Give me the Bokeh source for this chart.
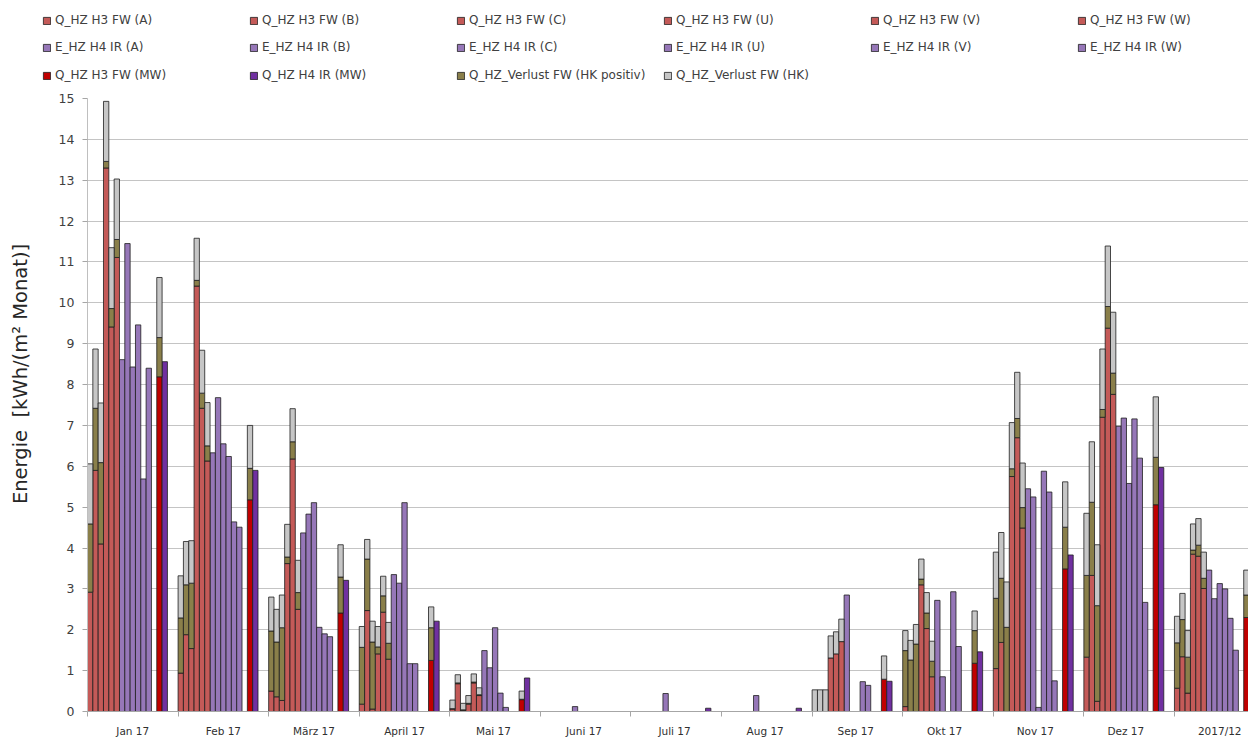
from bokeh.plotting import figure
from bokeh.layouts import column
from bokeh.models import ColumnDataSource, FixedTicker, Legend, LegendItem, Range1d
from bokeh.embed import file_html
from bokeh.resources import INLINE

# ---------------- data ----------------
months = ["Jan 17", "Feb 17", "März 17", "April 17", "Mai  17", "Juni  17", "Juli  17",
          "Aug  17", "Sep  17", "Okt   17", "Nov   17", "Dez   17", "2017/12"]
subs = ["A", "B", "C", "U", "V", "W"]

# Q_HZ H3 FW  (heat, red part)
q_fw_A = [2.92, 0.94, 0.50, 0.18, 0.06, 0, 0, 0, 0, 0.12, 1.05, 1.33, 0.57]
q_fw_B = [5.90, 1.88, 0.36, 2.47, 0.68, 0, 0, 0, 0, 0, 1.69, 3.33, 1.34]
q_fw_C = [4.10, 1.54, 0.27, 0.06, 0.03, 0, 0, 0, 0, 0, 0, 0.25, 0.45]
q_fw_U = [13.30, 10.41, 3.62, 1.41, 0.18, 0, 0, 0, 1.31, 3.10, 5.75, 7.20, 3.85]
q_fw_V = [9.41, 7.42, 6.18, 2.43, 0.70, 0, 0, 0, 1.41, 2.03, 6.70, 9.38, 3.80]
q_fw_W = [11.11, 6.13, 2.50, 1.28, 0.39, 0, 0, 0, 1.71, 0.85, 4.49, 7.76, 3.01]

# Q_HZ_Verlust FW (HK positiv)  (olive part)
vp_A = [1.67, 1.35, 1.47, 1.39, 0.01, 0, 0, 0, 0, 1.37, 1.72, 2.00, 1.11]
vp_B = [1.52, 1.22, 1.34, 1.26, 0.02, 0, 0, 0, 0, 1.26, 1.57, 1.79, 0.91]
vp_C = [1.99, 1.60, 1.78, 1.64, 0.01, 0, 0, 0, 0, 1.65, 2.06, 2.34, 0.88]
vp_U = [0.16, 0.14, 0.16, 0.17, 0.02, 0, 0, 0, 0, 0.14, 0.19, 0.19, 0.10]
vp_V = [0.45, 0.37, 0.42, 0.40, 0.02, 0, 0, 0, 0, 0.38, 0.47, 0.53, 0.27]
vp_W = [0.44, 0.37, 0.41, 0.39, 0.02, 0, 0, 0, 0, 0.38, 0.50, 0.52, 0.25]

# Q_HZ_Verlust FW (HK)  (grey part)
vl_A = [1.47, 1.03, 0.83, 0.51, 0.21, 0, 0, 0, 0.53, 0.49, 1.13, 1.52, 0.65]
vl_B = [1.45, 1.06, 0.80, 0.48, 0.20, 0, 0, 0, 0.53, 0.48, 1.12, 1.48, 0.64]
vl_C = [1.46, 1.04, 0.80, 0.51, 0.16, 0, 0, 0, 0.53, 0.48, 1.11, 1.49, 0.65]
vl_U = [1.47, 1.03, 0.80, 0.50, 0.19, 0, 0, 0, 0.54, 0.49, 1.13, 1.48, 0.64]
vl_V = [1.49, 1.05, 0.81, 0.48, 0.20, 0, 0, 0, 0.54, 0.50, 1.13, 1.48, 0.65]
vl_W = [1.48, 1.06, 0.79, 0.51, 0.17, 0, 0, 0, 0.55, 0.49, 1.09, 1.49, 0.64]

# E_HZ H4 IR
e_ir_A = [8.61, 6.33, 4.37, 3.35, 1.49, 0.12, 0.44, 0.39, 2.85, 2.72, 5.45, 6.98, 3.46]
e_ir_B = [11.45, 7.68, 4.83, 3.14, 1.07, 0, 0, 0, 0, 0.85, 5.25, 7.18, 2.76]
e_ir_C = [8.43, 6.55, 5.11, 5.11, 2.05, 0, 0, 0, 0, 0, 0.10, 5.58, 3.13]
e_ir_U = [9.46, 6.24, 2.06, 1.17, 0.45, 0, 0, 0, 0.73, 2.93, 5.88, 7.16, 3.00]
e_ir_V = [5.69, 4.64, 1.90, 1.17, 0.10, 0, 0, 0, 0.64, 1.59, 5.37, 6.20, 2.28]
e_ir_W = [8.40, 4.51, 1.83, 0, 0, 0, 0, 0, 0, 0, 0.75, 2.67, 1.50]

# mean values (MW)
q_fw_MW = [8.19, 5.18, 2.41, 1.25, 0.29, 0, 0, 0, 0.79, 1.18, 3.49, 5.06, 2.30]
vp_MW = [0.96, 0.77, 0.88, 0.80, 0.01, 0, 0, 0, 0, 0.80, 1.02, 1.16, 0.55]
vl_MW = [1.47, 1.05, 0.79, 0.51, 0.20, 0, 0, 0, 0.57, 0.48, 1.11, 1.48, 0.61]
e_ir_MW = [8.56, 5.90, 3.21, 2.21, 0.82, 0, 0.08, 0.08, 0.74, 1.46, 3.83, 5.97, 2.90]

q_fw = [q_fw_A, q_fw_B, q_fw_C, q_fw_U, q_fw_V, q_fw_W]
vp = [vp_A, vp_B, vp_C, vp_U, vp_V, vp_W]
vl = [vl_A, vl_B, vl_C, vl_U, vl_V, vl_W]
e_ir = [e_ir_A, e_ir_B, e_ir_C, e_ir_U, e_ir_V, e_ir_W]

# ---------------- style ----------------
C_Q = "#c45a58"
C_E = "#9677b8"
C_QMW = "#c00000"
C_EMW = "#7030a0"
C_OLIVE = "#8a7f4a"
C_GREY = "#c6c6c6"
OUT = "#1e1e1e"
FONT = "DejaVu Sans"

SLOTS = 17   # slots per month group
Q_SLOT = [0, 1, 2, 3, 4, 5]
E_SLOT = [6, 7, 8, 9, 10, 11]
QMW_SLOT = 13
EMW_SLOT = 14

W = 1248
LEG_H = 87
MAIN_H = 652

p = figure(width=W, height=MAIN_H, output_backend="svg", toolbar_location=None,
           x_range=Range1d(0, 217.9), y_range=Range1d(0, 15),
           min_border_left=87, min_border_right=0, min_border_top=11, min_border_bottom=26)
p.outline_line_color = None
p.background_fill_color = "white"
p.border_fill_color = "white"


def stack_src(slot, base, vals):
    xs, bs, ts = [], [], []
    for m in range(len(months)):
        b = base[m] if base is not None else 0
        v = vals[m]
        if v > 0:
            xs.append(SLOTS * m + slot + 0.5)
            bs.append(b)
            ts.append(b + v)
    return xs, bs, ts


def bars(fig, xs, bs, ts, color):
    src = ColumnDataSource(dict(x=xs, bottom=bs, top=ts))
    return fig.vbar(x="x", width=1, bottom="bottom", top="top", source=src,
                    fill_color=color, line_color=OUT, line_width=0.8)


olive_x, olive_b, olive_t = [], [], []
grey_x, grey_b, grey_t = [], [], []

for i in range(6):
    red = q_fw[i]
    xs, bs, ts = stack_src(Q_SLOT[i], None, red)
    bars(p, xs, bs, ts, C_Q)
    xs, bs, ts = stack_src(Q_SLOT[i], red, vp[i])
    olive_x += xs; olive_b += bs; olive_t += ts
    lvl2 = [a + b for a, b in zip(red, vp[i])]
    xs, bs, ts = stack_src(Q_SLOT[i], lvl2, vl[i])
    grey_x += xs; grey_b += bs; grey_t += ts
    xs, bs, ts = stack_src(E_SLOT[i], None, e_ir[i])
    bars(p, xs, bs, ts, C_E)

xs, bs, ts = stack_src(QMW_SLOT, None, q_fw_MW)
bars(p, xs, bs, ts, C_QMW)
xs, bs, ts = stack_src(QMW_SLOT, q_fw_MW, vp_MW)
olive_x += xs; olive_b += bs; olive_t += ts
lvl2 = [a + b for a, b in zip(q_fw_MW, vp_MW)]
xs, bs, ts = stack_src(QMW_SLOT, lvl2, vl_MW)
grey_x += xs; grey_b += bs; grey_t += ts
xs, bs, ts = stack_src(EMW_SLOT, None, e_ir_MW)
bars(p, xs, bs, ts, C_EMW)

bars(p, olive_x, olive_b, olive_t, C_OLIVE)
bars(p, grey_x, grey_b, grey_t, C_GREY)

# ---------------- axes ----------------
centers = [SLOTS * m + SLOTS / 2 for m in range(len(months))]
bounds = [SLOTS * m for m in range(len(months) + 1)]

xa = p.xaxis[0]
xa.ticker = FixedTicker(ticks=centers, minor_ticks=bounds)
xa.major_label_overrides = {c: lab for c, lab in zip(centers, months)}
xa.major_tick_line_color = None
xa.major_tick_out = 5
xa.major_tick_in = 0
xa.minor_tick_out = 5
xa.minor_tick_in = 0
xa.minor_tick_line_color = "#a6a6a6"
xa.axis_line_color = "#a6a6a6"
xa.major_label_text_font = FONT
xa.major_label_text_font_size = "10.5px"
xa.major_label_text_color = "#303030"
xa.major_label_standoff = 8

ya = p.yaxis[0]
ya.ticker = FixedTicker(ticks=list(range(0, 16)), minor_ticks=[])
ya.major_tick_out = 5
ya.major_tick_in = 0
ya.major_tick_line_color = "#a6a6a6"
ya.axis_line_color = "#bfbfbf"
ya.major_label_text_font = FONT
ya.major_label_text_font_size = "12.5px"
ya.major_label_text_color = "#404040"
ya.major_label_standoff = 8
# leading no-break spaces lift the label a little, as in the reference
ya.axis_label = "\u00a0" * 10 + "Energie\u00a0 [kWh/(m² Monat)]"
ya.axis_label_text_font = FONT
ya.axis_label_text_font_size = "19.5px"
ya.axis_label_text_font_style = "normal"
ya.axis_label_text_color = "#262626"
ya.axis_label_standoff = 24

p.xgrid.grid_line_color = None
p.ygrid.grid_line_color = "#c4c4c4"
p.ygrid.grid_line_width = 1

# ---------------- legend (own strip above the chart) ----------------
lf = figure(width=W, height=LEG_H, output_backend="svg", toolbar_location=None,
            x_range=Range1d(0, 1), y_range=Range1d(0, 1),
            x_axis_location=None, y_axis_location=None,
            min_border_left=0, min_border_right=0, min_border_top=0, min_border_bottom=0)
lf.frame_align = False
lf.outline_line_color = None
lf.xgrid.grid_line_color = None
lf.ygrid.grid_line_color = None


def dummy(color):
    # a single bar placed outside the visible range, only used for the legend swatch
    return bars(lf, [5.0], [5.0], [6.0], color)


rows = [
    [LegendItem(label="Q_HZ H3 FW (%s)" % s, renderers=[dummy(C_Q)]) for s in subs],
    [LegendItem(label="E_HZ H4 IR (%s)" % s, renderers=[dummy(C_E)]) for s in subs],
    [LegendItem(label="Q_HZ H3 FW (MW)", renderers=[dummy(C_QMW)]),
     LegendItem(label="Q_HZ H4 IR (MW)", renderers=[dummy(C_EMW)]),
     LegendItem(label="Q_HZ_Verlust FW (HK positiv)", renderers=[dummy(C_OLIVE)]),
     LegendItem(label="Q_HZ_Verlust FW (HK)", renderers=[dummy(C_GREY)])],
]
legend_h = 14
row_centers = [20, 47, 75]
for items, cy in zip(rows, row_centers):
    top = cy - legend_h / 2
    lg = Legend(items=items, orientation="horizontal",
                location=(42, LEG_H - top - legend_h),
                glyph_width=9, glyph_height=9, label_standoff=4,
                label_width=184, label_height=12, spacing=10,
                padding=0, margin=0,
                border_line_color=None, background_fill_alpha=0,
                label_text_font=FONT, label_text_font_size="12px",
                label_text_color="#404040")
    lf.add_layout(lg, "center")

page = column(lf, p, spacing=0)
open("out.html", "w").write(file_html(page, INLINE))
